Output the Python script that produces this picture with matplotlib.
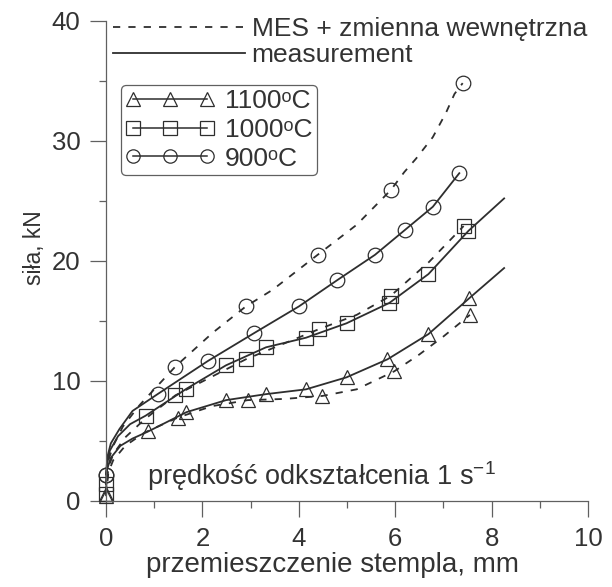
import matplotlib
matplotlib.use("Agg")
import matplotlib.pyplot as plt
from matplotlib.lines import Line2D

plt.rcParams['font.family'] = ['Liberation Sans', 'DejaVu Sans']
plt.rcParams['mathtext.fontset'] = 'custom'
plt.rcParams['mathtext.rm'] = 'Liberation Sans'
plt.rcParams['mathtext.it'] = 'Liberation Sans'

# displacement (mm) / force (kN)
# 900 C
x900_mes = [0, 0.05, 0.15, 0.35, 0.7, 1.44, 2.21, 2.90, 3.46, 4.39, 5.2, 5.91, 6.19, 6.43, 6.78, 7.05, 7.23, 7.40]
y900_mes = [2.2, 3.4, 4.6, 6.2, 8.0, 11.2, 14.0, 16.2, 17.6, 20.5, 23.0, 25.9, 27.4, 28.5, 30.3, 32.3, 33.9, 34.8]
m900_mes_x = [0, 1.44, 2.90, 4.39, 5.91, 7.40]
m900_mes_y = [2.2, 11.2, 16.2, 20.5, 25.9, 34.8]

x900_meas = [0, 0.03, 0.1, 0.28, 0.55, 1.07, 2.11, 3.08, 4.0, 4.80, 5.58, 6.21, 6.78, 7.33]
y900_meas = [2.2, 3.7, 4.8, 6.0, 7.5, 8.9, 11.65, 14.0, 16.2, 18.4, 20.5, 22.6, 24.5, 27.3]
m900_meas_x = [0, 1.07, 2.11, 3.08, 4.0, 4.80, 5.58, 6.21, 6.78, 7.33]
m900_meas_y = [2.2, 8.9, 11.65, 14.0, 16.2, 18.4, 20.5, 22.6, 24.5, 27.3]

# 1000 C
x1000_mes = [0, 0.05, 0.15, 0.4, 0.8, 1.44, 2.9, 4.41, 5.2, 5.91, 6.36, 6.7, 7.42]
y1000_mes = [0.6, 2.8, 3.9, 5.3, 6.8, 8.8, 11.8, 14.3, 15.5, 17.1, 18.7, 19.9, 22.9]
m1000_mes_x = [0, 1.44, 2.9, 4.41, 5.91, 7.42]
m1000_mes_y = [0.6, 8.8, 11.8, 14.3, 17.1, 22.9]

x1000_meas = [0, 0.02, 0.08, 0.25, 0.5, 0.82, 1.67, 2.49, 3.32, 4.15, 4.99, 5.88, 6.69, 7.52, 8.26]
y1000_meas = [1.4, 3.0, 4.2, 5.4, 6.4, 7.1, 9.35, 11.3, 12.8, 13.6, 14.8, 16.5, 18.9, 22.5, 25.2]
m1000_meas_x = [0, 0.82, 1.67, 2.49, 3.32, 4.15, 4.99, 5.88, 6.69, 7.52]
m1000_meas_y = [1.4, 7.1, 9.35, 11.3, 12.8, 13.6, 14.8, 16.5, 18.9, 22.5]

# 1100 C
x1100_mes = [0, 0.05, 0.15, 0.4, 0.8, 1.49, 2.2, 2.94, 3.7, 4.49, 5.2, 5.98, 6.5, 7.0, 7.55]
y1100_mes = [0.4, 2.4, 3.4, 4.6, 5.7, 6.95, 7.9, 8.4, 8.5, 8.75, 9.3, 10.8, 12.2, 13.7, 15.5]
m1100_mes_x = [0, 1.49, 2.94, 4.49, 5.98, 7.55]
m1100_mes_y = [0.4, 6.95, 8.4, 8.75, 10.8, 15.5]

x1100_meas = [0, 0.02, 0.1, 0.3, 0.55, 0.88, 1.67, 2.49, 3.32, 4.15, 4.99, 5.84, 6.69, 7.54, 8.26]
y1100_meas = [0.6, 2.6, 3.6, 4.6, 5.2, 5.8, 7.4, 8.4, 8.9, 9.3, 10.3, 11.8, 13.9, 16.9, 19.4]
m1100_meas_x = [0, 0.88, 1.67, 2.49, 3.32, 4.15, 4.99, 5.84, 6.69, 7.54]
m1100_meas_y = [0.6, 5.8, 7.4, 8.4, 8.9, 9.3, 10.3, 11.8, 13.9, 16.9]

temp_labels = ['1100ᵒC', '1000ᵒC', '900ᵒC']
markers = ['^', 's', 'o']

line_col = '#2e2e2e'
text_col = '#333333'
axis_col = '#606060'
dash = (0, (4, 4.5))
fs = 18.5

fig = plt.figure(figsize=(6.12, 5.87), dpi=100)
ax = fig.add_axes([106 / 612, 1 - 501 / 587, 482 / 612, 480.3 / 587])

series = [
    (x1100_mes, y1100_mes, m1100_mes_x, m1100_mes_y, x1100_meas, y1100_meas, m1100_meas_x, m1100_meas_y, '^'),
    (x1000_mes, y1000_mes, m1000_mes_x, m1000_mes_y, x1000_meas, y1000_meas, m1000_meas_x, m1000_meas_y, 's'),
    (x900_mes, y900_mes, m900_mes_x, m900_mes_y, x900_meas, y900_meas, m900_meas_x, m900_meas_y, 'o'),
]
for xm, ym, mxm, mym, xs, ys, mxs, mys, mk in series:
    ax.plot(xm, ym, linestyle=dash, color=line_col, lw=1.3, clip_on=False)
    ax.plot(mxm, mym, linestyle='none', marker=mk, ms=10.5, mfc='none', mec=line_col, mew=0.9, clip_on=False)
    ax.plot(xs, ys, linestyle='-', color=line_col, lw=1.3, clip_on=False)
    ax.plot(mxs, mys, linestyle='none', marker=mk, ms=10.5, mfc='none', mec=line_col, mew=0.9, clip_on=False)

ax.set_xlim(0, 10)
ax.set_ylim(0, 40)
ax.set_xticks([0, 2, 4, 6, 8, 10])
ax.set_xticks([1, 3, 5, 7, 9], minor=True)
ax.set_yticks([0, 10, 20, 30, 40])
ax.set_yticks([5, 15, 25, 35], minor=True)
for side in ['top', 'right']:
    ax.spines[side].set_visible(False)
for side in ['left', 'bottom']:
    ax.spines[side].set_color(axis_col)
    ax.spines[side].set_linewidth(0.9)
ax.tick_params(which='major', direction='out', length=11.5, width=0.9, color=axis_col,
               labelsize=fs, labelcolor=text_col, pad=7)
ax.tick_params(which='minor', direction='out', length=5, width=0.9, color=axis_col)

ax.set_xlabel('przemieszczenie stempla, mm', fontsize=20, color=text_col)
ax.xaxis.set_label_coords(0.47, -0.106)
ax.set_ylabel('siła, kN', fontsize=16.5, color=text_col)
ax.yaxis.set_label_coords(-0.125, 0.527)

ax.text(0.85, 1.33, 'prędkość odkształcenia 1 s$^{-1}$', fontsize=19.5, color=text_col, va='baseline')

# legend for line style
style_handles = [Line2D([], [], color=line_col, lw=1.3, linestyle=dash),
                 Line2D([], [], color=line_col, lw=1.3, linestyle='-')]
leg1 = fig.legend(style_handles, ['MES + zmienna wewnętrzna', 'measurement'],
                  loc='upper left', bbox_to_anchor=(113 / 612, 1 - 17 / 587), frameon=False,
                  handlelength=5.0, handletextpad=0.25, labelspacing=0.08, borderpad=0,
                  fontsize=19, labelcolor=text_col, borderaxespad=0)

# legend for temperatures
temp_handles = [Line2D([], [], color=line_col, lw=1.1, marker=m, ms=9.6, mfc='none', mec=line_col, mew=0.9)
                for m in markers]
leg2 = fig.legend(temp_handles, temp_labels, loc='upper left', bbox_to_anchor=(120.7 / 612, 1 - 85 / 587),
                  numpoints=3, handlelength=3.4, handletextpad=0.4, labelspacing=0.18,
                  fontsize=19, labelcolor=text_col, borderpad=0.16, borderaxespad=0,
                  fancybox=True, framealpha=1)
leg2.get_frame().set_edgecolor(axis_col)
leg2.get_frame().set_linewidth(0.9)

fig.savefig('out.png', dpi=100)
